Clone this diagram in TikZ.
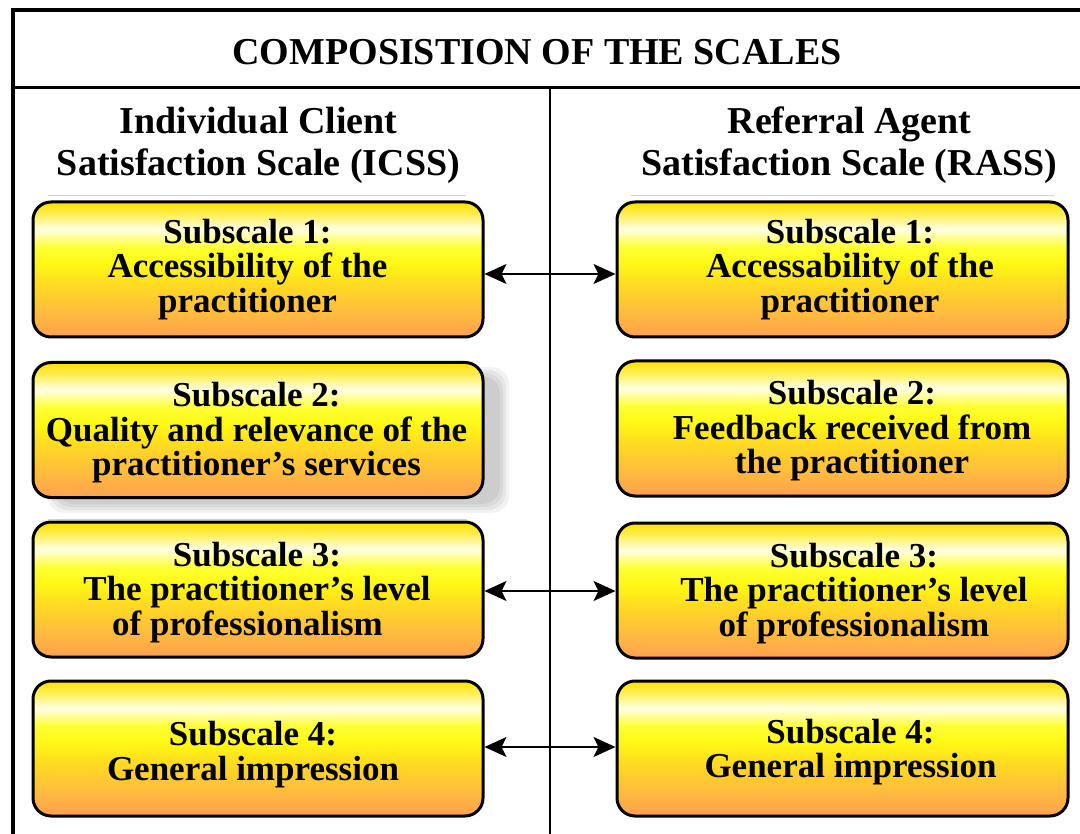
\documentclass[tikz,border=0pt]{standalone}
\usepackage{fontspec}
\setmainfont{Liberation Serif}
\usetikzlibrary{arrows.meta,calc}
\definecolor{oBot}{HTML}{FFA050}
\definecolor{oMid}{HTML}{FFBE3C}
\definecolor{gMid}{HTML}{FFDC20}
\definecolor{yMid}{HTML}{FFF814}
\definecolor{yHi}{HTML}{FFFF30}
\definecolor{wHi}{HTML}{FFFFE6}
\definecolor{gHi}{HTML}{FFF060}
\definecolor{gTop}{HTML}{FFE000}
\pgfdeclareverticalshading{boxshade}{100bp}{color(0bp)=(oBot); color(25bp)=(oBot); color(35bp)=(oMid); color(45bp)=(gMid); color(52bp)=(yMid); color(58bp)=(yHi); color(65bp)=(wHi); color(70bp)=(gHi); color(75bp)=(gTop); color(100bp)=(gTop)}
\tikzset{
  sbox/.style={draw=black, line width=3pt, rounded corners=18pt, shading=boxshade, minimum width=450pt, minimum height=135pt, inner sep=0pt},
  stext/.style={align=center, font=\fontsize{35}{34.5}\selectfont\bfseries, inner sep=0pt},
  head/.style={align=center, font=\fontsize{38}{42}\selectfont\bfseries, inner sep=0pt},
  dbl/.style={line width=1.5pt, {Stealth[length=22pt,width=20pt,inset=5pt]}-{Stealth[length=22pt,width=20pt,inset=5pt]}},
  shadowlayer/.style={fill=black, opacity=0.05, rounded corners=18pt},
  faint/.style={draw=black!18, line width=1pt}
}
\begin{document}
\begin{tikzpicture}[x=1pt,y=-1pt]
\useasboundingbox (0,0) rectangle (1080,834);
\fill[white] (0,0) rectangle (1080,834);
% frame
\draw[line width=4pt] (13,834) -- (13,10) -- (1082,10);
\draw[line width=3pt] (13,87.5) -- (1082,87.5);
\draw[line width=2pt] (550,87.5) -- (550,834);
% title and headings
\node[anchor=base, font=\fontsize{38}{42}\selectfont\bfseries, inner sep=0pt] (title) at (537,64.5) {COMPOSISTION OF THE SCALES};
\node[head] (hl) at (258.5,145) {Individual Client\\Satisfaction Scale (ICSS)};
\node[head] (hr) at (849.5,145) {Referral Agent\\Satisfaction Scale (RASS)};
% faint lines
\draw[faint] (48,196) -- (466,196);
\draw[faint] (631,196) -- (1054,196);
\draw[faint] (48,519) -- (467,519);
% shadow of left box 2
\fill[shadowlayer] (47,367) rectangle (509,513);
\fill[shadowlayer] (50,370) rectangle (506,510);
\fill[shadowlayer] (53,373) rectangle (503,507);
\fill[shadowlayer] (56,376) rectangle (500,504);
% boxes
\node[sbox] (L1) at (258,269.5) {};
\node[sbox] (L2) at (258,430) {};
\node[sbox] (L3) at (258,589.5) {};
\node[sbox] (L4) at (258,748.5) {};
\node[sbox, minimum width=451pt] (R1) at (842.5,269.5) {};
\node[sbox, minimum width=451pt] (R2) at (842.5,428.5) {};
\node[sbox, minimum width=451pt] (R3) at (842.5,590.5) {};
\node[sbox, minimum width=451pt] (R4) at (842.5,748.5) {};
% box texts
\node[stext] (tL1) at (247.5,269.5) {Subscale 1:\\Accessibility of the\\practitioner};
\node[stext] (tL2) at (256.5,433) {Subscale 2:\\Quality and relevance of the\\practitioner’s services};
\node[stext] (tL3) at (257,592.5) {Subscale 3:\\The practitioner’s level\\of professionalism\hspace*{19pt}};
\node[stext] (tL4) at (253,754.5) {Subscale 4:\\General impression};
\node[stext] (tR1) at (850,269.5) {Subscale 1:\\Accessability of the\\practitioner};
\node[stext] (tR2) at (852,431) {Subscale 2:\\Feedback received from\\the practitioner};
\node[stext] (tR3) at (854,593.5) {Subscale 3:\\The practitioner’s level\\of professionalism};
\node[stext] (tR4) at (850.5,752) {Subscale 4:\\General impression};
% arrows
\coordinate (a1) at (550,274);
\coordinate (a3) at (550,591);
\coordinate (a4) at (550,747);
\draw[dbl] (L1.east |- a1) -- (R1.west |- a1);
\draw[dbl] (L3.east |- a3) -- (R3.west |- a3);
\draw[dbl] (L4.east |- a4) -- (R4.west |- a4);
\end{tikzpicture}
\end{document}
